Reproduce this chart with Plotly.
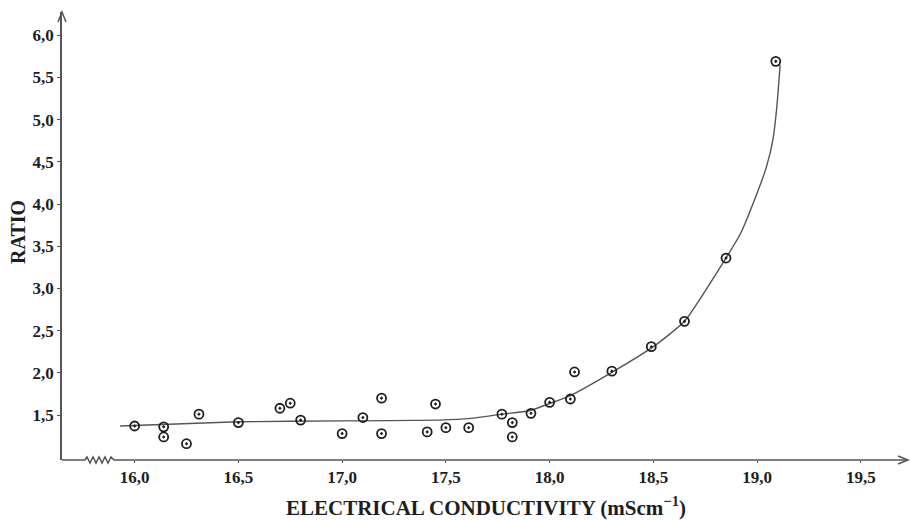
import plotly.graph_objects as go

# Measured points: electrical conductivity (mS/cm) vs ratio
ec = [16.00, 16.14, 16.14, 16.25, 16.31, 16.50, 16.70, 16.75, 16.80, 17.00,
      17.10, 17.19, 17.19, 17.41, 17.45, 17.50, 17.61, 17.77, 17.82, 17.82,
      17.91, 18.00, 18.10, 18.12, 18.30, 18.49, 18.65, 18.85, 19.09]
ratio = [1.37, 1.36, 1.24, 1.16, 1.51, 1.41, 1.58, 1.64, 1.44, 1.28,
         1.47, 1.70, 1.28, 1.30, 1.63, 1.35, 1.35, 1.51, 1.41, 1.24,
         1.52, 1.65, 1.69, 2.01, 2.02, 2.31, 2.61, 3.36, 5.69]

# Fitted curve
fit_ec = [15.93, 16.50, 17.00, 17.47, 17.62, 17.77, 17.90, 18.01, 18.10,
          18.31, 18.50, 18.65, 18.85, 18.92, 19.00,
          19.045, 19.076, 19.095, 19.108, 19.111]
fit_ratio = [1.37, 1.42, 1.43, 1.44, 1.46, 1.51, 1.55, 1.645, 1.73,
             2.02, 2.31, 2.61, 3.36, 3.65, 4.13,
             4.44, 4.76, 5.15, 5.55, 5.65]

x_ticks = [16.0, 16.5, 17.0, 17.5, 18.0, 18.5, 19.0, 19.5]
x_labels = ["16,0", "16,5", "17,0", "17,5", "18,0", "18,5", "19,0", "19,5"]
y_ticks = [1.5, 2.0, 2.5, 3.0, 3.5, 4.0, 4.5, 5.0, 5.5, 6.0]
y_labels = ["1,5", "2,0", "2,5", "3,0", "3,5", "4,0", "4,5", "5,0", "5,5", "6,0"]

axis_col = "#555555"
ink = "#1e1e1e"
serif = "Liberation Serif, Times New Roman, serif"
tfont = dict(family=serif, size=17, color=ink)

fig = go.Figure()
fig.add_trace(go.Scatter(
    x=fit_ec, y=fit_ratio, mode="lines",
    line=dict(color="#555555", width=1.4, shape="spline", smoothing=0.5),
    hoverinfo="skip", showlegend=False))
fig.add_trace(go.Scatter(
    x=ec, y=ratio, mode="markers",
    marker=dict(symbol="circle-open-dot", size=9, color=ink,
                line=dict(color=ink, width=1.8)),
    showlegend=False))

W, H = 911, 521
ml, mr, mt, mb = 62, 3, 12, 61
pw = W - ml - mr
ph = H - mt - mb

fig.update_layout(
    width=W, height=H,
    margin=dict(l=ml, r=mr, t=mt, b=mb),
    plot_bgcolor="white", paper_bgcolor="white",
    xaxis=dict(range=[15.65, 15.65 + pw / 207.5], tickvals=x_ticks,
               ticktext=["<b>%s</b>" % s for s in x_labels],
               tickfont=tfont, showgrid=False,
               zeroline=False, showline=False, ticks="outside", ticklen=2,
               tickcolor=axis_col),
    yaxis=dict(range=[0.967, 6.275], tickvals=y_ticks,
               ticktext=["<b>%s</b>" % s for s in y_labels],
               tickfont=tfont, showgrid=False, zeroline=False,
               showline=True, linecolor=axis_col, linewidth=1.5,
               ticks="outside", ticklen=3, tickcolor=axis_col),
)

# x-axis line with a break (zigzag) near the origin
zig = "M 0,0 L 23,0 L 25,3 L 28,-3 L 31,3 L 34,-3 L 37,3 L 40,-3 L 43,3 L 46,-3 L 49,3 L 52,0 L %d,0" % pw
fig.add_shape(type="path", path=zig, xref="paper", yref="paper",
              xsizemode="pixel", ysizemode="pixel", xanchor=0, yanchor=0,
              line=dict(color=axis_col, width=1.5))
# arrowheads
fig.add_shape(type="path", path="M -4,-10 L 0,0 L 4,-10", xref="paper", yref="paper",
              xsizemode="pixel", ysizemode="pixel", xanchor=0, yanchor=1,
              line=dict(color=axis_col, width=1.5))
fig.add_shape(type="path", path="M -10,4 L 0,0 L -10,-4", xref="paper", yref="paper",
              xsizemode="pixel", ysizemode="pixel", xanchor=1, yanchor=0,
              line=dict(color=axis_col, width=1.5))

fig.add_annotation(text="<b>ELECTRICAL CONDUCTIVITY (mScm<sup>−1</sup>)</b>",
                   xref="paper", yref="paper", x=(486 - ml) / pw,
                   y=-(506 - (H - mb)) / ph, xanchor="center", yanchor="middle",
                   showarrow=False,
                   font=dict(family=serif, size=21, color=ink))
fig.add_annotation(text="<b>RATIO</b>", textangle=-90,
                   xref="paper", yref="paper", x=-(ml - 18) / pw,
                   y=(H - mb - 232) / ph, xanchor="center", yanchor="middle",
                   showarrow=False,
                   font=dict(family=serif, size=20, color=ink))

fig.write_html("out.html", config={"displayModeBar": False},
               post_script="document.body.style.margin='0';document.body.style.padding='0';")
